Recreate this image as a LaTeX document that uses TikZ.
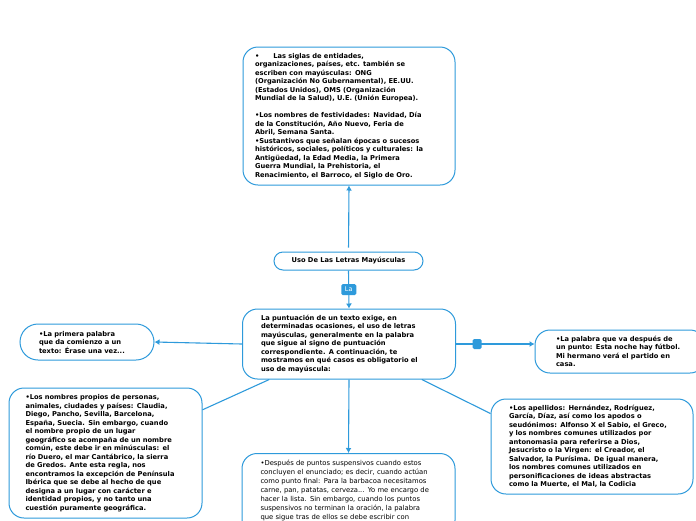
\documentclass[tikz,border=0pt]{standalone}
\usepackage{fontspec}
\setmainfont{DejaVu Sans}
\usepackage{xcolor}
\usepackage{tikz}
\usetikzlibrary{positioning,arrows.meta}

\definecolor{mapblue}{HTML}{2E9ADB}

\tikzset{
	idea/.style={draw=mapblue, line width=1pt, fill=white, rounded corners=15pt, align=left, font=\fontsize{6.7}{8.5}\selectfont\bfseries},
	plainidea/.style={idea, font=\fontsize{6.8}{8.9}\selectfont},
	link/.style={draw=mapblue, line width=1.1pt},
	tag/.style={fill=mapblue, rounded corners=1.5pt, text=white, inner sep=1pt, minimum width=15pt, minimum height=11pt, font=\fontsize{6.5}{6.5}\selectfont}
}

\begin{document}
\begin{tikzpicture}[x=1pt, y=-1pt, >={Latex[length=5pt,width=6pt]}]
		\useasboundingbox (0,0) rectangle (696,520);
		\clip (0,0) rectangle (696,520);
		
		\node[idea, minimum width=212pt, minimum height=138pt, text width=188pt] (sig) at (349,116)
		{\textbullet\hspace{14pt}Las siglas de entidades,\\
			organizaciones, países, etc. también se\\
			escriben con mayúsculas: ONG\\
			(Organización No Gubernamental), EE.UU.\\
			(Estados Unidos), OMS (Organización\\
			Mundial de la Salud), U.E. (Unión Europea).\\[8.5pt]
			\textbullet Los nombres de festividades: Navidad, Día\\
			de la Constitución, Año Nuevo, Feria de\\
			Abril, Semana Santa.\\
			\textbullet Sustantivos que señalan épocas o sucesos\\
			históricos, sociales, políticos y culturales: la\\
			Antigüedad, la Edad Media, la Primera\\
			Guerra Mundial, la Prehistoria, el\\
			Renacimiento, el Barroco, el Siglo de Oro.};
		
		\node[idea, rounded corners=9pt, minimum width=149pt, minimum height=18pt, align=center] (uso) at (348.5,261)
		{Uso De Las Letras Mayúsculas};
		
		\node[idea, minimum width=213pt, minimum height=70pt, text width=176pt] (pun) at (349,344)
		{La puntuación de un texto exige, en\\
			determinadas ocasiones, el uso de letras\\
			mayúsculas, generalmente en la palabra\\
			que sigue al signo de puntuación\\
			correspondiente. A continuación, te\\
			mostramos en qué casos es obligatorio el\\
			uso de mayúscula:};
		
		\node[idea, rounded corners=18pt, minimum width=134pt, minimum height=36pt, text width=96pt] (pri) at (87,342)
		{\textbullet La primera palabra\\
			que da comienzo a un\\
			texto: Érase una vez...};
		
		\node[idea, minimum width=193pt, minimum height=130pt, text width=160pt] (pro) at (105.5,453)
		{\textbullet Los nombres propios de personas,\\
			animales, ciudades y países: Claudia,\\
			Diego, Pancho, Sevilla, Barcelona,\\
			España, Suecia. Sin embargo, cuando\\
			el nombre propio de un lugar\\
			geográfico se acompaña de un nombre\\
			común, este debe ir en minúsculas: el\\
			río Duero, el mar Cantábrico, la sierra\\
			de Gredos. Ante esta regla, nos\\
			encontramos la excepción de Península\\
			Ibérica que se debe al hecho de que\\
			designa a un lugar con carácter e\\
			identidad propios, y no tanto una\\
			cuestión puramente geográfica.};
		
		\node[idea, minimum width=170pt, minimum height=43pt, text width=128pt] (pal) at (620,351.5)
		{\textbullet La palabra que va después de\\
			un punto: Esta noche hay fútbol.\\
			Mi hermano verá el partido en\\
			casa.};
		
		\node[idea, minimum width=202pt, minimum height=95pt, text width=166pt] (ape) at (592,446.5)
		{\textbullet Los apellidos: Hernández, Rodríguez,\\
			García, Díaz, así como los apodos o\\
			seudónimos: Alfonso X el Sabio, el Greco,\\
			y los nombres comunes utilizados por\\
			antonomasia para referirse a Dios,\\
			Jesucristo o la Virgen: el Creador, el\\
			Salvador, la Purísima. De igual manera,\\
			los nombres comunes utilizados en\\
			personificaciones de ideas abstractas\\
			como la Muerte, el Mal, la Codicia};
		
		\node[plainidea, anchor=north, minimum width=213pt, text width=176pt, inner ysep=7pt] (sus) at (348.5,453)
		{\textbullet Después de puntos suspensivos cuando estos\\
			concluyen el enunciado; es decir, cuando actúan\\
			como punto final: Para la barbacoa necesitamos\\
			carne, pan, patatas, cerveza... Yo me encargo de\\
			hacer la lista. Sin embargo, cuando los puntos\\
			suspensivos no terminan la oración, la palabra\\
			que sigue tras de ellos se debe escribir con\\
			\phantom{minúscula}};
		
		\draw[link, ->, shorten <=4pt] (uso.north) -- (sig.south);
		\draw[link, ->] (uso.south) -- node[tag] {La} (pun.north);
		\draw[link, ->] (pun.west) -- (pri.east);
		\draw[link, ->] (pun.east) -- node[tag, pos=0.27, minimum width=9pt, minimum height=10pt, inner sep=0pt] {} (pal.west |- pun.east);
		\draw[link] (pun.204) -- (pro.24);
		\draw[link] (pun.334) -- (ape.162);
		\draw[link, ->] (pun.south) -- (sus.north);
	\end{tikzpicture}
\end{document}
